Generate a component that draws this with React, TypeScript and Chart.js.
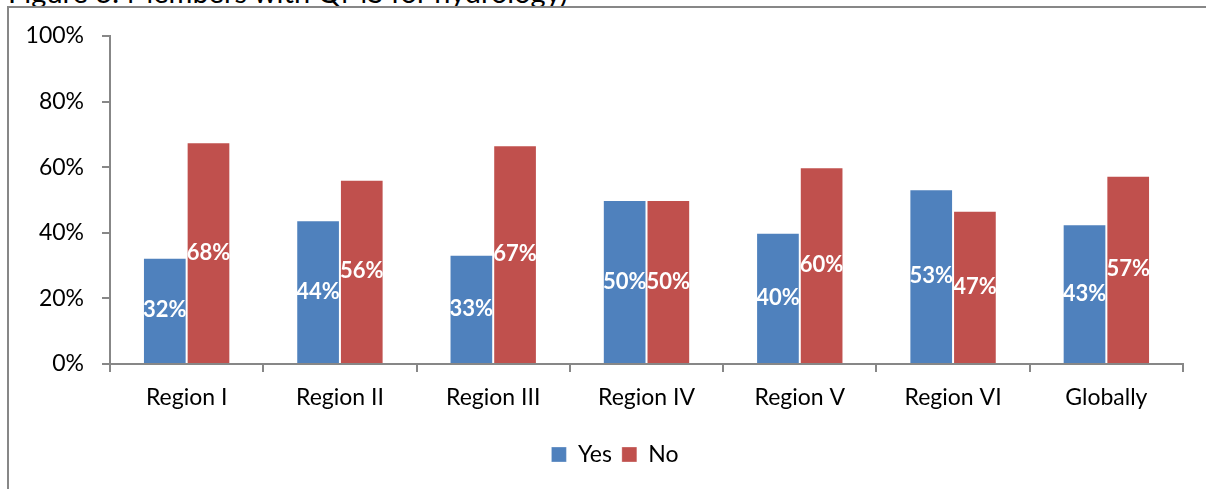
import React, { useEffect, useRef } from "react";
import { Chart, registerables } from "chart.js";

Chart.register(...registerables);

const categories = ["Region I", "Region II", "Region III", "Region IV", "Region V", "Region VI", "Globally"];
const yesValues = [32.4, 43.8, 33.3, 50, 40, 53.3, 42.6];
const noValues = [67.6, 56.2, 66.7, 50, 60, 46.7, 57.4];
const yTicks = [0, 20, 40, 60, 80, 100];
const seriesNames = ["Yes", "No"];
const titleText = "Figure 3: Members with QMS for hydrology)";

const FONT = "Lato, 'Open Sans', sans-serif";
const AXIS = "#878787";

const barLabels = {
  id: "barLabels",
  afterDatasetsDraw(chart: any) {
    const ctx = chart.ctx;
    ctx.save();
    ctx.fillStyle = "#ffffff";
    ctx.font = `bold 22px ${FONT}`;
    ctx.textAlign = "center";
    ctx.textBaseline = "middle";
    chart.data.datasets.forEach((ds: any, di: number) => {
      const meta = chart.getDatasetMeta(di);
      meta.data.forEach((bar: any, i: number) => {
        const v = ds.data[i];
        const y = (bar.y + bar.base) / 2;
        ctx.fillText(Math.round(v) + "%", bar.x, y);
      });
    });
    ctx.restore();
  },
};

const shiftLegend = {
  id: "shiftLegend",
  afterLayout(chart: any) {
    if (chart.legend) {
      chart.legend.left += 47;
    }
  },
};

export default function App() {
  const ref = useRef<HTMLCanvasElement | null>(null);
  useEffect(() => {
    if (!ref.current) return;
    const chart = new Chart(ref.current, {
      type: "bar",
      data: {
        labels: categories,
        datasets: [
          {
            label: seriesNames[0],
            data: yesValues,
            backgroundColor: "#4F81BD",
            borderColor: "rgba(255,255,255,0.3)",
            borderWidth: 1,
            categoryPercentage: 0.57,
            barPercentage: 1,
          },
          {
            label: seriesNames[1],
            data: noValues,
            backgroundColor: "#C0504D",
            borderColor: "rgba(255,255,255,0.3)",
            borderWidth: 1,
            categoryPercentage: 0.57,
            barPercentage: 1,
          },
        ],
      },
      options: {
        animation: false,
        responsive: false,
        maintainAspectRatio: false,
        devicePixelRatio: 1,
        layout: { padding: { left: 0, right: 23, top: 36, bottom: 13 } },
        plugins: {
          tooltip: { enabled: false },
          title: { display: false },
          legend: {
            display: true,
            position: "bottom",
            labels: {
              boxWidth: 15,
              boxHeight: 15,
              padding: 10,
              color: "#000",
              font: { family: FONT, size: 23 },
            },
          },
        },
        scales: {
          x: {
            offset: true,
            grid: {
              display: true,
              offset: true,
              drawOnChartArea: false,
              drawTicks: true,
              tickLength: 8,
              color: AXIS,
              lineWidth: 2,
            },
            border: { display: true, color: AXIS, width: 2 },
            ticks: {
              color: "#000",
              padding: 12,
              font: { family: FONT, size: 23 },
              maxRotation: 0,
            },
            afterFit(scale: any) {
              scale.height = 69;
            },
          },
          y: {
            min: 0,
            max: 100,
            afterBuildTicks(scale: any) {
              scale.ticks = yTicks.map((v) => ({ value: v }));
            },
            grid: {
              display: true,
              drawOnChartArea: false,
              drawTicks: true,
              tickLength: 8,
              color: AXIS,
              lineWidth: 2,
            },
            border: { display: true, color: AXIS, width: 2 },
            ticks: {
              color: "#000",
              padding: 18,
              font: { family: FONT, size: 23 },
              callback: (v: any) => v + "%",
            },
            afterFit(scale: any) {
              scale.width = 110;
            },
          },
        },
      },
      plugins: [barLabels, shiftLegend],
    });
    return () => chart.destroy();
  }, []);

  return (
    <div style={{ position: "fixed", left: 0, top: 0, width: 1206, height: 489, overflow: "hidden", background: "#fff" }}>
      <div
        style={{
          position: "absolute",
          left: 8,
          top: -23,
          fontFamily: FONT,
          fontSize: 29,
          lineHeight: "29px",
          whiteSpace: "nowrap",
          color: "#000",
        }}
      >
        {titleText}
      </div>
      <div
        style={{
          position: "absolute",
          left: 7,
          top: 6,
          width: 1300,
          height: 600,
          borderLeft: `2px solid ${AXIS}`,
          borderTop: `2px solid ${AXIS}`,
        }}
      />
      <canvas ref={ref} width={1206} height={489} style={{ position: "absolute", left: 0, top: 0, width: 1206, height: 489 }} />
    </div>
  );
}
